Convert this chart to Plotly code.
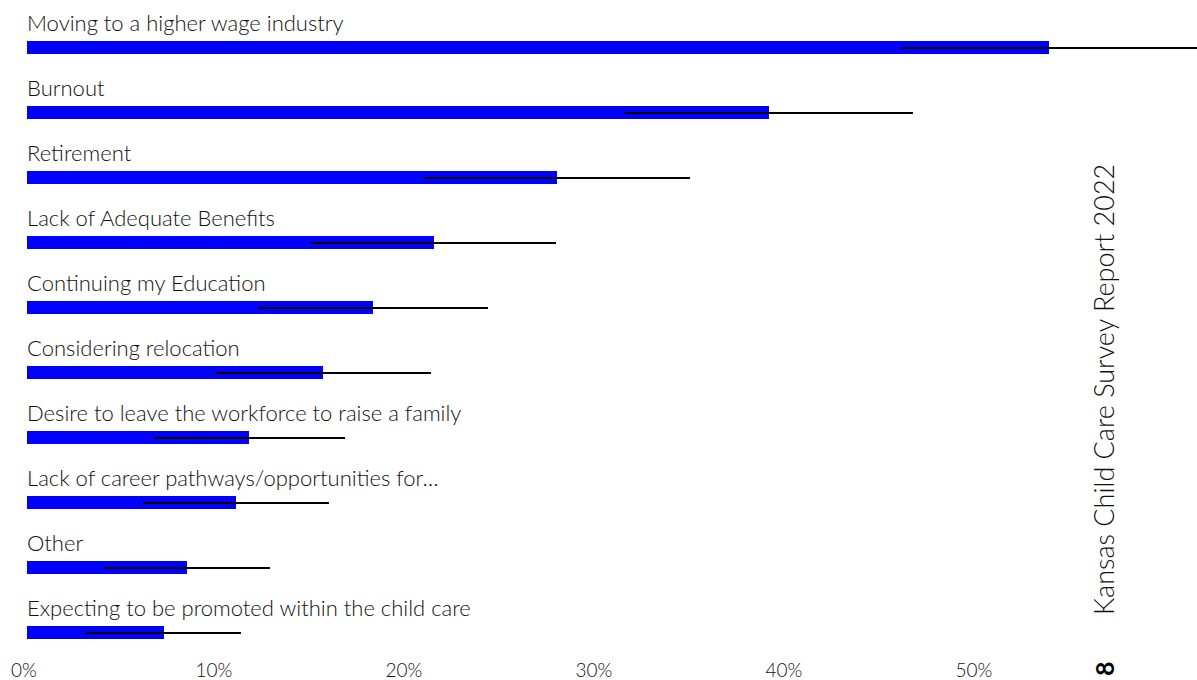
import plotly.graph_objects as go

categories = [
    "Moving to a higher wage industry",
    "Burnout",
    "Retirement",
    "Lack of Adequate Benefits",
    "Continuing my Education",
    "Considering relocation",
    "Desire to leave the workforce to raise a family",
    "Lack of career pathways/opportunities for…",
    "Other",
    "Expecting to be promoted within the child care",
]
values = [53.8, 39.05, 27.9, 21.4, 18.2, 15.6, 11.7, 11.0, 8.4, 7.2]
errors = [7.8, 7.6, 7.0, 6.45, 6.05, 5.67, 5.03, 4.92, 4.37, 4.08]
tick_vals = [0, 10, 20, 30, 40, 50]
tick_text = ["0%", "10%", "20%", "30%", "40%", "50%"]
side_title = "Kansas Child Care Survey Report 2022"
page_number = "8"

FONT = "Lato"
rows = list(range(len(categories)))

fig = go.Figure()
fig.add_trace(go.Bar(
    x=values,
    y=rows,
    orientation="h",
    width=0.2,
    marker=dict(color="#0000FF", line=dict(width=0)),
    error_x=dict(type="data", array=errors, visible=True,
                 color="black", thickness=2.5, width=0),
    hoverinfo="skip",
    showlegend=False,
))

annotations = []
for i, c in enumerate(categories):
    annotations.append(dict(
        x=0, y=i, xref="x", yref="y", text=c, showarrow=False,
        xanchor="left", yanchor="middle", yshift=25, xshift=-2,
        font=dict(family=FONT, size=22, color="#111111", weight=300),
    ))

annotations.append(dict(
    x=0.9205, y=0.408, xref="paper", yref="paper", text=side_title,
    showarrow=False, textangle=-90, xanchor="center", yanchor="middle",
    font=dict(family=FONT, size=27, color="#111111", weight=300),
))
annotations.append(dict(
    x=0.9205, y=-0.0167, xref="paper", yref="paper", text="<b>" + page_number + "</b>",
    showarrow=False, textangle=-90, xanchor="center", yanchor="middle",
    font=dict(family=FONT, size=25, color="#000000"),
))

fig.update_layout(
    width=1197, height=680,
    margin=dict(l=27, r=0, t=0, b=23),
    paper_bgcolor="white", plot_bgcolor="white",
    annotations=annotations,
    xaxis=dict(
        range=[0, 1170 / 19.0],
        tickvals=tick_vals, ticktext=tick_text,
        showgrid=False, zeroline=False, showline=False, ticks="",
        tickfont=dict(family=FONT, size=19, color="#111111", weight=300),
        ticklabelshift=-3,
    ),
    yaxis=dict(
        range=[9.37, -0.738],
        showticklabels=False, showgrid=False, zeroline=False,
        showline=False, ticks="",
    ),
    bargap=0,
)

fig.write_html("out.html", config={"displayModeBar": False},
               post_script="document.body.style.margin='0px';")
